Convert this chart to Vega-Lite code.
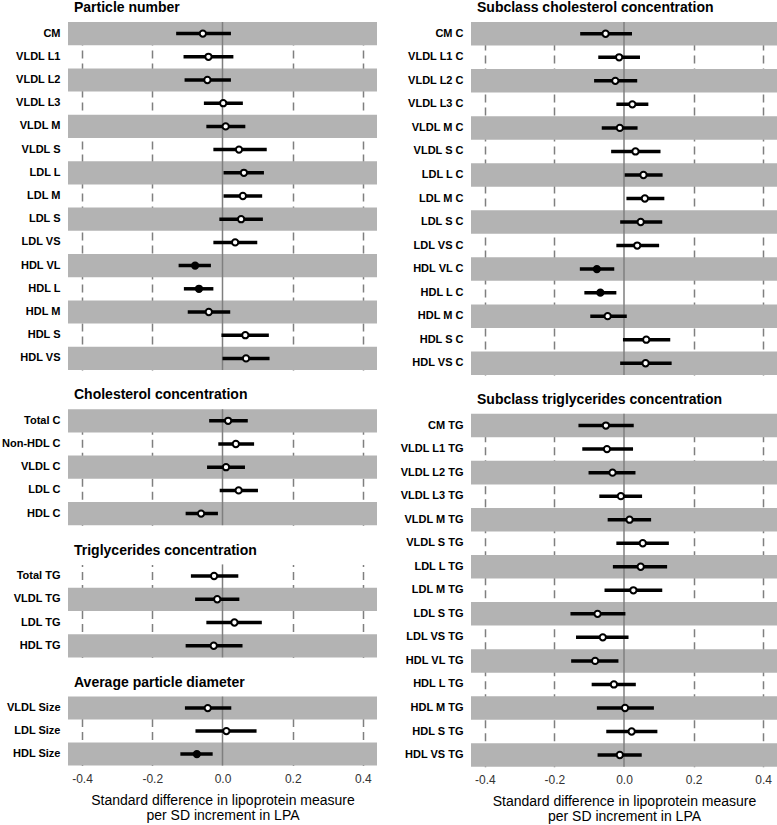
{
  "$schema": "https://vega.github.io/schema/vega-lite/v6.json",
  "padding": {"left": 0, "top": 1, "right": 0, "bottom": 0},
  "background": "white",
  "config": {
    "font": "Liberation Sans",
    "view": {"stroke": null},
    "title": {"fontSize": 14, "fontWeight": "bold", "anchor": "start", "frame": "group", "color": "black", "offset": 6, "dx": 6},
    "axisX": {"domain": false, "ticks": false, "grid": true, "gridDash": [8, 5], "gridColor": "#7f7f7f", "gridWidth": 1.5, "zindex": 1},
    "axisY": {"domain": false, "ticks": false, "grid": false, "title": null, "labelFontWeight": "bold", "labelFontSize": 11, "labelColor": "black", "labelPadding": 8}
  },
  "data": {"values": [
    {"panel": "Particle number", "label": "CM", "est": -0.056, "lo": -0.132, "hi": 0.024, "sig": false},
    {"panel": "Particle number", "label": "VLDL L1", "est": -0.040, "lo": -0.111, "hi": 0.031, "sig": false},
    {"panel": "Particle number", "label": "VLDL L2", "est": -0.043, "lo": -0.108, "hi": 0.024, "sig": false},
    {"panel": "Particle number", "label": "VLDL L3", "est": 0.002, "lo": -0.053, "hi": 0.058, "sig": false},
    {"panel": "Particle number", "label": "VLDL M", "est": 0.009, "lo": -0.046, "hi": 0.065, "sig": false},
    {"panel": "Particle number", "label": "VLDL S", "est": 0.047, "lo": -0.026, "hi": 0.126, "sig": false},
    {"panel": "Particle number", "label": "LDL L", "est": 0.061, "lo": 0.003, "hi": 0.118, "sig": false},
    {"panel": "Particle number", "label": "LDL M", "est": 0.058, "lo": 0.003, "hi": 0.113, "sig": false},
    {"panel": "Particle number", "label": "LDL S", "est": 0.053, "lo": -0.009, "hi": 0.115, "sig": false},
    {"panel": "Particle number", "label": "LDL VS", "est": 0.036, "lo": -0.026, "hi": 0.099, "sig": false},
    {"panel": "Particle number", "label": "HDL VL", "est": -0.078, "lo": -0.125, "hi": -0.033, "sig": true},
    {"panel": "Particle number", "label": "HDL L", "est": -0.067, "lo": -0.110, "hi": -0.026, "sig": true},
    {"panel": "Particle number", "label": "HDL M", "est": -0.039, "lo": -0.099, "hi": 0.022, "sig": false},
    {"panel": "Particle number", "label": "HDL S", "est": 0.065, "lo": -0.003, "hi": 0.132, "sig": false},
    {"panel": "Particle number", "label": "HDL VS", "est": 0.067, "lo": 0.000, "hi": 0.134, "sig": false},
    {"panel": "Cholesterol concentration", "label": "Total C", "est": 0.016, "lo": -0.038, "hi": 0.072, "sig": false},
    {"panel": "Cholesterol concentration", "label": "Non-HDL C", "est": 0.038, "lo": -0.012, "hi": 0.090, "sig": false},
    {"panel": "Cholesterol concentration", "label": "VLDL C", "est": 0.010, "lo": -0.044, "hi": 0.064, "sig": false},
    {"panel": "Cholesterol concentration", "label": "LDL C", "est": 0.046, "lo": -0.008, "hi": 0.101, "sig": false},
    {"panel": "Cholesterol concentration", "label": "HDL C", "est": -0.061, "lo": -0.105, "hi": -0.013, "sig": false},
    {"panel": "Triglycerides concentration", "label": "Total TG", "est": -0.024, "lo": -0.090, "hi": 0.045, "sig": false},
    {"panel": "Triglycerides concentration", "label": "VLDL TG", "est": -0.015, "lo": -0.078, "hi": 0.048, "sig": false},
    {"panel": "Triglycerides concentration", "label": "LDL TG", "est": 0.034, "lo": -0.046, "hi": 0.112, "sig": false},
    {"panel": "Triglycerides concentration", "label": "HDL TG", "est": -0.025, "lo": -0.105, "hi": 0.057, "sig": false},
    {"panel": "Average particle diameter", "label": "VLDL Size", "est": -0.042, "lo": -0.107, "hi": 0.025, "sig": false},
    {"panel": "Average particle diameter", "label": "LDL Size", "est": 0.011, "lo": -0.077, "hi": 0.097, "sig": false},
    {"panel": "Average particle diameter", "label": "HDL Size", "est": -0.073, "lo": -0.120, "hi": -0.028, "sig": true},
    {"panel": "Subclass cholesterol concentration", "label": "CM C", "est": -0.053, "lo": -0.126, "hi": 0.023, "sig": false},
    {"panel": "Subclass cholesterol concentration", "label": "VLDL L1 C", "est": -0.014, "lo": -0.074, "hi": 0.046, "sig": false},
    {"panel": "Subclass cholesterol concentration", "label": "VLDL L2 C", "est": -0.025, "lo": -0.086, "hi": 0.038, "sig": false},
    {"panel": "Subclass cholesterol concentration", "label": "VLDL L3 C", "est": 0.024, "lo": -0.022, "hi": 0.070, "sig": false},
    {"panel": "Subclass cholesterol concentration", "label": "VLDL M C", "est": -0.012, "lo": -0.064, "hi": 0.039, "sig": false},
    {"panel": "Subclass cholesterol concentration", "label": "VLDL S C", "est": 0.033, "lo": -0.037, "hi": 0.105, "sig": false},
    {"panel": "Subclass cholesterol concentration", "label": "LDL L C", "est": 0.056, "lo": 0.002, "hi": 0.111, "sig": false},
    {"panel": "Subclass cholesterol concentration", "label": "LDL M C", "est": 0.060, "lo": 0.007, "hi": 0.116, "sig": false},
    {"panel": "Subclass cholesterol concentration", "label": "LDL S C", "est": 0.048, "lo": -0.011, "hi": 0.110, "sig": false},
    {"panel": "Subclass cholesterol concentration", "label": "LDL VS C", "est": 0.038, "lo": -0.022, "hi": 0.101, "sig": false},
    {"panel": "Subclass cholesterol concentration", "label": "HDL VL C", "est": -0.078, "lo": -0.127, "hi": -0.028, "sig": true},
    {"panel": "Subclass cholesterol concentration", "label": "HDL L C", "est": -0.068, "lo": -0.114, "hi": -0.022, "sig": true},
    {"panel": "Subclass cholesterol concentration", "label": "HDL M C", "est": -0.047, "lo": -0.097, "hi": 0.008, "sig": false},
    {"panel": "Subclass cholesterol concentration", "label": "HDL S C", "est": 0.064, "lo": -0.003, "hi": 0.133, "sig": false},
    {"panel": "Subclass cholesterol concentration", "label": "HDL VS C", "est": 0.062, "lo": -0.011, "hi": 0.137, "sig": false},
    {"panel": "Subclass triglycerides concentration", "label": "CM TG", "est": -0.052, "lo": -0.131, "hi": 0.028, "sig": false},
    {"panel": "Subclass triglycerides concentration", "label": "VLDL L1 TG", "est": -0.049, "lo": -0.120, "hi": 0.026, "sig": false},
    {"panel": "Subclass triglycerides concentration", "label": "VLDL L2 TG", "est": -0.033, "lo": -0.102, "hi": 0.033, "sig": false},
    {"panel": "Subclass triglycerides concentration", "label": "VLDL L3 TG", "est": -0.009, "lo": -0.071, "hi": 0.052, "sig": false},
    {"panel": "Subclass triglycerides concentration", "label": "VLDL M TG", "est": 0.016, "lo": -0.047, "hi": 0.078, "sig": false},
    {"panel": "Subclass triglycerides concentration", "label": "VLDL S TG", "est": 0.054, "lo": -0.022, "hi": 0.129, "sig": false},
    {"panel": "Subclass triglycerides concentration", "label": "LDL L TG", "est": 0.048, "lo": -0.032, "hi": 0.124, "sig": false},
    {"panel": "Subclass triglycerides concentration", "label": "LDL M TG", "est": 0.027, "lo": -0.056, "hi": 0.110, "sig": false},
    {"panel": "Subclass triglycerides concentration", "label": "LDL S TG", "est": -0.076, "lo": -0.154, "hi": 0.004, "sig": false},
    {"panel": "Subclass triglycerides concentration", "label": "LDL VS TG", "est": -0.061, "lo": -0.138, "hi": 0.013, "sig": false},
    {"panel": "Subclass triglycerides concentration", "label": "HDL VL TG", "est": -0.083, "lo": -0.152, "hi": -0.016, "sig": false},
    {"panel": "Subclass triglycerides concentration", "label": "HDL L TG", "est": -0.029, "lo": -0.093, "hi": 0.034, "sig": false},
    {"panel": "Subclass triglycerides concentration", "label": "HDL M TG", "est": 0.003, "lo": -0.078, "hi": 0.086, "sig": false},
    {"panel": "Subclass triglycerides concentration", "label": "HDL S TG", "est": 0.022, "lo": -0.051, "hi": 0.096, "sig": false},
    {"panel": "Subclass triglycerides concentration", "label": "HDL VS TG", "est": -0.012, "lo": -0.076, "hi": 0.051, "sig": false}
  ]},
  "resolve": {"scale": {"x": "independent", "y": "independent"}},
  "spacing": 23,
  "hconcat": [
    {
      "spacing": 17.2,
      "resolve": {"scale": {"x": "independent", "y": "independent"}},
      "vconcat": [
        {
          "width": 309, "height": 348,
          "title": "Particle number",
          "transform": [
            {"filter": "datum.panel === 'Particle number'"},
            {"window": [{"op": "row_number", "as": "i"}]},
            {"joinaggregate": [{"op": "count", "as": "n"}]},
            {"calculate": "(datum.n - datum.i) % 2 === 0", "as": "shade"}
          ],
          "layer": [
            {"mark": {"type": "rect", "fill": "#b3b3b3"},
             "encoding": {
               "y": {"field": "label", "type": "nominal", "sort": null, "scale": {"paddingInner": 0, "paddingOuter": 0}, "axis": {"minExtent": 68, "maxExtent": 68}},
               "x": {"datum": -0.44, "type": "quantitative", "scale": {"domain": [-0.44, 0.44], "nice": false, "zero": false},
                     "axis": {"values": [-0.4, -0.2, 0, 0.2, 0.4], "labels": false, "title": null, "minExtent": 0, "maxExtent": 0, "gridOpacity": {"condition": {"test": "datum.value === 0", "value": 0}, "value": 1}}},
               "x2": {"datum": 0.44},
               "fillOpacity": {"condition": {"test": "datum.shade", "value": 1}, "value": 0}}},
            {"transform": [{"filter": "datum.i === 1"}], "mark": {"type": "rule", "color": "#7f7f7f", "strokeWidth": 1.5}, "encoding": {"x": {"datum": 0, "type": "quantitative"}}},
            {"mark": {"type": "rule", "color": "black", "strokeWidth": 3.5}, "encoding": {"y": {"field": "label", "type": "nominal", "sort": null}, "x": {"field": "lo", "type": "quantitative"}, "x2": {"field": "hi"}}},
            {"mark": {"type": "point", "shape": "circle", "filled": true, "size": 40, "stroke": "black", "strokeWidth": 2, "opacity": 1},
             "encoding": {"y": {"field": "label", "type": "nominal", "sort": null}, "x": {"field": "est", "type": "quantitative"},
               "fill": {"condition": {"test": "datum.sig", "value": "black"}, "value": "white"}}}
          ]
        },
        {
          "width": 309, "height": 116,
          "title": "Cholesterol concentration",
          "transform": [
            {"filter": "datum.panel === 'Cholesterol concentration'"},
            {"window": [{"op": "row_number", "as": "i"}]},
            {"joinaggregate": [{"op": "count", "as": "n"}]},
            {"calculate": "(datum.n - datum.i) % 2 === 0", "as": "shade"}
          ],
          "layer": [
            {"mark": {"type": "rect", "fill": "#b3b3b3"},
             "encoding": {
               "y": {"field": "label", "type": "nominal", "sort": null, "scale": {"paddingInner": 0, "paddingOuter": 0}, "axis": {"minExtent": 68, "maxExtent": 68}},
               "x": {"datum": -0.44, "type": "quantitative", "scale": {"domain": [-0.44, 0.44], "nice": false, "zero": false},
                     "axis": {"values": [-0.4, -0.2, 0, 0.2, 0.4], "labels": false, "title": null, "minExtent": 0, "maxExtent": 0, "gridOpacity": {"condition": {"test": "datum.value === 0", "value": 0}, "value": 1}}},
               "x2": {"datum": 0.44},
               "fillOpacity": {"condition": {"test": "datum.shade", "value": 1}, "value": 0}}},
            {"transform": [{"filter": "datum.i === 1"}], "mark": {"type": "rule", "color": "#7f7f7f", "strokeWidth": 1.5}, "encoding": {"x": {"datum": 0, "type": "quantitative"}}},
            {"mark": {"type": "rule", "color": "black", "strokeWidth": 3.5}, "encoding": {"y": {"field": "label", "type": "nominal", "sort": null}, "x": {"field": "lo", "type": "quantitative"}, "x2": {"field": "hi"}}},
            {"mark": {"type": "point", "shape": "circle", "filled": true, "size": 40, "stroke": "black", "strokeWidth": 2, "opacity": 1},
             "encoding": {"y": {"field": "label", "type": "nominal", "sort": null}, "x": {"field": "est", "type": "quantitative"},
               "fill": {"condition": {"test": "datum.sig", "value": "black"}, "value": "white"}}}
          ]
        },
        {
          "width": 309, "height": 93,
          "title": "Triglycerides concentration",
          "transform": [
            {"filter": "datum.panel === 'Triglycerides concentration'"},
            {"window": [{"op": "row_number", "as": "i"}]},
            {"joinaggregate": [{"op": "count", "as": "n"}]},
            {"calculate": "(datum.n - datum.i) % 2 === 0", "as": "shade"}
          ],
          "layer": [
            {"mark": {"type": "rect", "fill": "#b3b3b3"},
             "encoding": {
               "y": {"field": "label", "type": "nominal", "sort": null, "scale": {"paddingInner": 0, "paddingOuter": 0}, "axis": {"minExtent": 68, "maxExtent": 68}},
               "x": {"datum": -0.44, "type": "quantitative", "scale": {"domain": [-0.44, 0.44], "nice": false, "zero": false},
                     "axis": {"values": [-0.4, -0.2, 0, 0.2, 0.4], "labels": false, "title": null, "minExtent": 0, "maxExtent": 0, "gridOpacity": {"condition": {"test": "datum.value === 0", "value": 0}, "value": 1}}},
               "x2": {"datum": 0.44},
               "fillOpacity": {"condition": {"test": "datum.shade", "value": 1}, "value": 0}}},
            {"transform": [{"filter": "datum.i === 1"}], "mark": {"type": "rule", "color": "#7f7f7f", "strokeWidth": 1.5}, "encoding": {"x": {"datum": 0, "type": "quantitative"}}},
            {"mark": {"type": "rule", "color": "black", "strokeWidth": 3.5}, "encoding": {"y": {"field": "label", "type": "nominal", "sort": null}, "x": {"field": "lo", "type": "quantitative"}, "x2": {"field": "hi"}}},
            {"mark": {"type": "point", "shape": "circle", "filled": true, "size": 40, "stroke": "black", "strokeWidth": 2, "opacity": 1},
             "encoding": {"y": {"field": "label", "type": "nominal", "sort": null}, "x": {"field": "est", "type": "quantitative"},
               "fill": {"condition": {"test": "datum.sig", "value": "black"}, "value": "white"}}}
          ]
        },
        {
          "width": 309, "height": 69,
          "title": "Average particle diameter",
          "transform": [
            {"filter": "datum.panel === 'Average particle diameter'"},
            {"window": [{"op": "row_number", "as": "i"}]},
            {"joinaggregate": [{"op": "count", "as": "n"}]},
            {"calculate": "(datum.n - datum.i) % 2 === 0", "as": "shade"}
          ],
          "layer": [
            {"mark": {"type": "rect", "fill": "#b3b3b3"},
             "encoding": {
               "y": {"field": "label", "type": "nominal", "sort": null, "scale": {"paddingInner": 0, "paddingOuter": 0}, "axis": {"minExtent": 68, "maxExtent": 68}},
               "x": {"datum": -0.44, "type": "quantitative", "scale": {"domain": [-0.44, 0.44], "nice": false, "zero": false},
                     "axis": {"values": [-0.4, -0.2, 0, 0.2, 0.4], "labelExpr": "replace(format(datum.value, '.1f'), '\u2212', '-')", "labelFontSize": 12, "labelColor": "#333333", "labelPadding": 8, "title": ["Standard difference in lipoprotein measure", "per SD increment in LPA"], "titleFontSize": 14, "titleFontWeight": "normal", "titleColor": "black", "titlePadding": 9, "titleLineHeight": 15, "gridOpacity": {"condition": {"test": "datum.value === 0", "value": 0}, "value": 1}}},
               "x2": {"datum": 0.44},
               "fillOpacity": {"condition": {"test": "datum.shade", "value": 1}, "value": 0}}},
            {"transform": [{"filter": "datum.i === 1"}], "mark": {"type": "rule", "color": "#7f7f7f", "strokeWidth": 1.5}, "encoding": {"x": {"datum": 0, "type": "quantitative"}}},
            {"mark": {"type": "rule", "color": "black", "strokeWidth": 3.5}, "encoding": {"y": {"field": "label", "type": "nominal", "sort": null}, "x": {"field": "lo", "type": "quantitative"}, "x2": {"field": "hi"}}},
            {"mark": {"type": "point", "shape": "circle", "filled": true, "size": 40, "stroke": "black", "strokeWidth": 2, "opacity": 1},
             "encoding": {"y": {"field": "label", "type": "nominal", "sort": null}, "x": {"field": "est", "type": "quantitative"},
               "fill": {"condition": {"test": "datum.sig", "value": "black"}, "value": "white"}}}
          ]
        }
      ]
    },
    {
      "spacing": 16.8,
      "resolve": {"scale": {"x": "independent", "y": "independent"}},
      "vconcat": [
        {
          "width": 306, "height": 353,
          "title": "Subclass cholesterol concentration",
          "transform": [
            {"filter": "datum.panel === 'Subclass cholesterol concentration'"},
            {"window": [{"op": "row_number", "as": "i"}]},
            {"joinaggregate": [{"op": "count", "as": "n"}]},
            {"calculate": "(datum.n - datum.i) % 2 === 0", "as": "shade"}
          ],
          "layer": [
            {"mark": {"type": "rect", "fill": "#b3b3b3"},
             "encoding": {
               "y": {"field": "label", "type": "nominal", "sort": null, "scale": {"paddingInner": 0, "paddingOuter": 0}, "axis": {"minExtent": 64, "maxExtent": 64}},
               "x": {"datum": -0.44, "type": "quantitative", "scale": {"domain": [-0.44, 0.44], "nice": false, "zero": false},
                     "axis": {"values": [-0.4, -0.2, 0, 0.2, 0.4], "labels": false, "title": null, "minExtent": 0, "maxExtent": 0, "gridOpacity": {"condition": {"test": "datum.value === 0", "value": 0}, "value": 1}}},
               "x2": {"datum": 0.44},
               "fillOpacity": {"condition": {"test": "datum.shade", "value": 1}, "value": 0}}},
            {"transform": [{"filter": "datum.i === 1"}], "mark": {"type": "rule", "color": "#7f7f7f", "strokeWidth": 1.5}, "encoding": {"x": {"datum": 0, "type": "quantitative"}}},
            {"mark": {"type": "rule", "color": "black", "strokeWidth": 3.5}, "encoding": {"y": {"field": "label", "type": "nominal", "sort": null}, "x": {"field": "lo", "type": "quantitative"}, "x2": {"field": "hi"}}},
            {"mark": {"type": "point", "shape": "circle", "filled": true, "size": 40, "stroke": "black", "strokeWidth": 2, "opacity": 1},
             "encoding": {"y": {"field": "label", "type": "nominal", "sort": null}, "x": {"field": "est", "type": "quantitative"},
               "fill": {"condition": {"test": "datum.sig", "value": "black"}, "value": "white"}}}
          ]
        },
        {
          "width": 306, "height": 353,
          "title": "Subclass triglycerides concentration",
          "transform": [
            {"filter": "datum.panel === 'Subclass triglycerides concentration'"},
            {"window": [{"op": "row_number", "as": "i"}]},
            {"joinaggregate": [{"op": "count", "as": "n"}]},
            {"calculate": "(datum.n - datum.i) % 2 === 0", "as": "shade"}
          ],
          "layer": [
            {"mark": {"type": "rect", "fill": "#b3b3b3"},
             "encoding": {
               "y": {"field": "label", "type": "nominal", "sort": null, "scale": {"paddingInner": 0, "paddingOuter": 0}, "axis": {"minExtent": 64, "maxExtent": 64}},
               "x": {"datum": -0.44, "type": "quantitative", "scale": {"domain": [-0.44, 0.44], "nice": false, "zero": false},
                     "axis": {"values": [-0.4, -0.2, 0, 0.2, 0.4], "labelExpr": "replace(format(datum.value, '.1f'), '\u2212', '-')", "labelFontSize": 12, "labelColor": "#333333", "labelPadding": 8, "title": ["Standard difference in lipoprotein measure", "per SD increment in LPA"], "titleFontSize": 14, "titleFontWeight": "normal", "titleColor": "black", "titlePadding": 9, "titleLineHeight": 15, "gridOpacity": {"condition": {"test": "datum.value === 0", "value": 0}, "value": 1}}},
               "x2": {"datum": 0.44},
               "fillOpacity": {"condition": {"test": "datum.shade", "value": 1}, "value": 0}}},
            {"transform": [{"filter": "datum.i === 1"}], "mark": {"type": "rule", "color": "#7f7f7f", "strokeWidth": 1.5}, "encoding": {"x": {"datum": 0, "type": "quantitative"}}},
            {"mark": {"type": "rule", "color": "black", "strokeWidth": 3.5}, "encoding": {"y": {"field": "label", "type": "nominal", "sort": null}, "x": {"field": "lo", "type": "quantitative"}, "x2": {"field": "hi"}}},
            {"mark": {"type": "point", "shape": "circle", "filled": true, "size": 40, "stroke": "black", "strokeWidth": 2, "opacity": 1},
             "encoding": {"y": {"field": "label", "type": "nominal", "sort": null}, "x": {"field": "est", "type": "quantitative"},
               "fill": {"condition": {"test": "datum.sig", "value": "black"}, "value": "white"}}}
          ]
        }
      ]
    }
  ]
}
